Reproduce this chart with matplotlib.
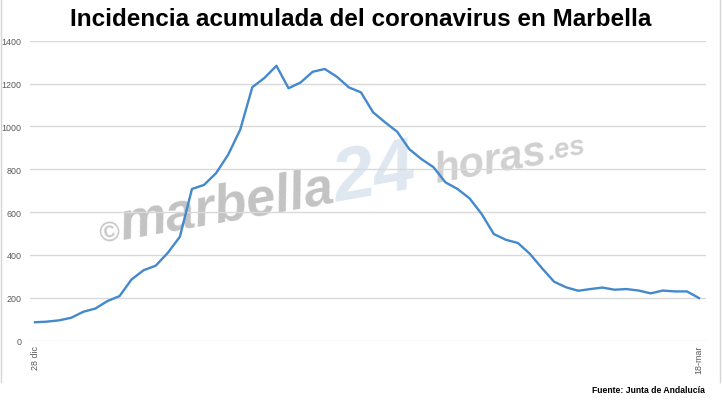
import matplotlib
matplotlib.use("Agg")
import matplotlib.pyplot as plt
from matplotlib.lines import Line2D

# ---- data ----
incidencia = [86, 89, 95, 107, 135, 150, 185, 208, 286, 329,
              350, 410, 485, 708, 727, 782, 868, 985, 1183, 1226,
              1283, 1178, 1205, 1255, 1268, 1232, 1182, 1159, 1066, 1019,
              975, 894, 848, 810, 739, 708, 664, 591, 498, 471,
              456, 405, 338, 275, 249, 233, 241, 248, 238, 241,
              234, 221, 234, 230, 230, 199]
x_labels = ["28 dic"] + [""] * (len(incidencia) - 2) + ["18-mar"]
y_ticks = [0, 200, 400, 600, 800, 1000, 1200, 1400]
title = "Incidencia acumulada del coronavirus en Marbella"
source = "Fuente: Junta de Andalucía"

W, H = 722, 410
fig = plt.figure(figsize=(W / 100, H / 100), dpi=100)
fig.patch.set_facecolor("white")

ax_left, ax_right = 30, 706
ax_top, ax_bot = 41.7, 341.7
ax = fig.add_axes([ax_left / W, (H - ax_bot) / H,
                   (ax_right - ax_left) / W, (ax_bot - ax_top) / H])
ax.set_zorder(3)
ax.patch.set_alpha(0)

xs = list(range(len(incidencia)))
ax.plot(xs, incidencia, color="#4389cc", lw=1.7, solid_joinstyle="round", zorder=3)

ax.set_ylim(0, 1400)
ax.set_xlim(-5 / 12.07, len(incidencia) - 1 + 7 / 12.07)
ax.set_yticks(y_ticks)
ax.set_yticklabels([str(v) for v in y_ticks], fontsize=6.4, color="#595959",
                   family=["Liberation Sans", "DejaVu Sans"])
ax.grid(axis="y", color="#d9d9d9", lw=1.0, zorder=0)
ax.tick_params(axis="y", length=0, pad=6)
ax.set_xticks([0, len(incidencia) - 1])
ax.set_xticklabels([x_labels[0], x_labels[-1]], rotation=90, fontsize=6.4,
                   color="#595959", va="top", family=["Liberation Sans", "DejaVu Sans"])
ax.tick_params(axis="x", length=0, pad=3)
for s in ax.spines.values():
    s.set_visible(False)

# title
fig.text(361 / W, 1 - 20 / H, title, ha="center", va="center", fontsize=17.5,
         fontweight="bold", family=["Liberation Sans Narrow", "Liberation Sans", "DejaVu Sans"],
         color="black")

# source
fig.text(705 / W, 1 - 391 / H, source, ha="right", va="center", fontsize=6.2,
         fontweight="bold", family=["Liberation Sans", "DejaVu Sans"], color="black")

# watermark (behind the line)
wm_kw = dict(rotation=10, rotation_mode="anchor", ha="left", va="baseline",
             fontweight="bold", style="italic", family=["Liberation Sans", "DejaVu Sans"],
             zorder=1)
fig.text(100 / W, 1 - 243 / H, "©", fontsize=20, color="#c8c8c8", **wm_kw)
fig.text(122 / W, 1 - 240 / H, "marbella", fontsize=38, color="#c3c3c3", **wm_kw)
fig.text(336 / W, 1 - 202 / H, "24", fontsize=54, color="#dfe8f1", **wm_kw)
fig.text(436 / W, 1 - 183 / H, "horas", fontsize=30, color="#d0d0d0", **wm_kw)
fig.text(548 / W, 1 - 160 / H, ".es", fontsize=20, color="#d0d0d0", **wm_kw)

# frame lines
for xp in (1, 720):
    fig.add_artist(Line2D([xp / W, xp / W], [1 - 383 / H, 1], color="#d6d6d6", lw=1.0))

fig.savefig("out.png", dpi=100, facecolor="white")
